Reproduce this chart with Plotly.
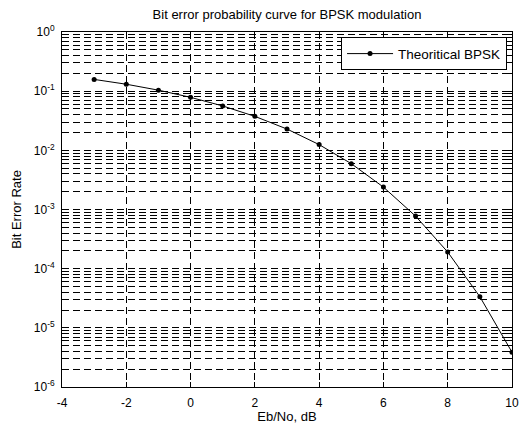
import plotly.graph_objects as go

ebno_db = [-3, -2, -1, 0, 1, 2, 3, 4, 5, 6, 7, 8, 9, 10]
ber = [0.158, 0.131, 0.104, 0.0786, 0.0563, 0.0375, 0.0229, 0.0125,
       0.00595, 0.00239, 0.000773, 0.000191, 3.36e-5, 3.87e-6]

x_ticks = [-4, -2, 0, 2, 4, 6, 8, 10]
x_ticktext = ["-4", "-2", "0", "2", "4", "6", "8", "10"]
y_exps = [-6, -5, -4, -3, -2, -1, 0]
y_ticks = [10.0 ** e for e in y_exps]
y_ticktext = ["10<sup>%d</sup>" % e for e in y_exps]
y_minor = [m * 10.0 ** e for e in y_exps[:-1] for m in range(2, 10)]

font = "Liberation Sans, Arial, sans-serif"
dash = "7px,4px"

fig = go.Figure()
fig.add_trace(go.Scatter(
    x=ebno_db, y=ber, mode="lines+markers",
    name="Theoritical BPSK",
    line=dict(color="black", width=1),
    marker=dict(color="black", size=5, symbol="circle"),
))

fig.update_layout(
    width=523, height=424,
    margin=dict(l=62, r=11, t=32, b=37, autoexpand=False),
    paper_bgcolor="white", plot_bgcolor="white",
    font=dict(family=font, size=12, color="black"),
    title=dict(text="Bit error probability curve for BPSK modulation",
               x=0.5, xref="paper", xanchor="center",
               y=1 - 14 / 424, yanchor="middle",
               font=dict(family=font, size=13, color="black")),
    showlegend=True,
    legend=dict(x=0.989, y=0.985, xanchor="right", yanchor="top",
                bgcolor="white", bordercolor="black", borderwidth=1,
                font=dict(family=font, size=13.5, color="black"),
                itemwidth=46, tracegroupgap=0),
    xaxis=dict(
        range=[-4, 10], tickmode="array", tickvals=x_ticks,
        ticktext=x_ticktext, automargin=False,
        tickfont=dict(family=font, size=12, color="black"),
        showgrid=True, gridcolor="black", griddash=dash, gridwidth=0.5,
        zeroline=False, showline=True, linecolor="black", linewidth=1,
        mirror="allticks", ticks="inside", ticklen=5, tickcolor="black",
        ticklabelstandoff=5,
        title=dict(text="Eb/No, dB", standoff=4,
                   font=dict(family=font, size=13, color="black")),
    ),
    yaxis=dict(
        type="log", range=[-6, 0], tickmode="array", automargin=False,
        tickvals=y_ticks, ticktext=y_ticktext,
        tickfont=dict(family=font, size=12, color="black"),
        showgrid=True, gridcolor="black", griddash=dash, gridwidth=0.5,
        zeroline=False, showline=True, linecolor="black", linewidth=1,
        mirror="allticks", ticks="inside", ticklen=5, tickcolor="black",
        ticklabelstandoff=4,
        minor=dict(tickmode="array", tickvals=y_minor, ticks="inside",
                   ticklen=3, tickcolor="black", showgrid=True,
                   gridcolor="black", griddash=dash, gridwidth=0.5),
        title=dict(text="Bit Error Rate", standoff=9,
                   font=dict(family=font, size=13, color="black")),
    ),
)

fig.write_html("out.html")
